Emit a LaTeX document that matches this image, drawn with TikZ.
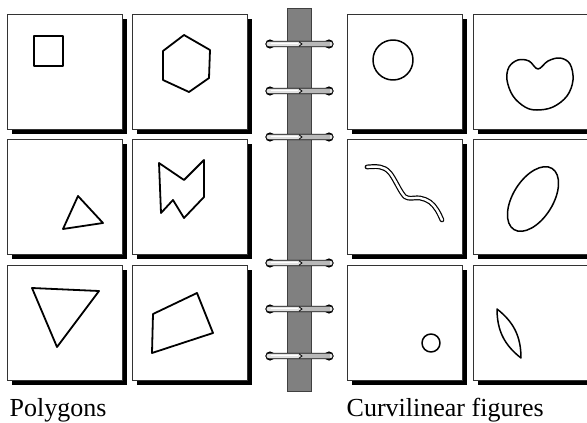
\documentclass[tikz,border=0pt]{standalone}
\usepackage{fontspec}
\setmainfont{Liberation Serif}

\begin{document}
\begin{tikzpicture}[x=1pt,y=-1pt,font=\fontsize{26}{30}\selectfont]
  \useasboundingbox (0,0) rectangle (587,423);
  \clip (0,0) rectangle (587,423);

  % Helper macro: card with drop shadow. #1 left, #2 top, #3 figure in card coordinates
  \newcommand{\card}[3]{%
    \begin{scope}[shift={(#1,#2)}]
      \fill[black] (5,5) rectangle (120,120);
      \filldraw[fill=white,draw=black!80,line width=0.8pt] (0,0) rectangle (115,115);
      \begin{scope}[line width=1.8pt,line join=round]
        #3
      \end{scope}
    \end{scope}
  }
  % Helper macro: binder ring at height #1
  \newcommand{\binderring}[1]{%
    \begin{scope}[shift={(0,#1)}]
      \fill (270,0) circle[radius=4.6];
      \fill (329,0) circle[radius=4.6];
      \filldraw[fill=gray!22,rounded corners=2.8,line width=0.7pt] (266,-2.8) rectangle (333,2.8);
      \fill[gray!55] (301,-2.4) rectangle (330,2.4);
      \draw[white,line width=1pt] (271,-0.6) -- (298,-0.6);
      \draw[line width=0.8pt] (299,-2.2) -- (302,0) -- (299,2.2);
    \end{scope}
  }

  % spine of the binder
  \filldraw[fill=black!50,draw=black!75,line width=0.8pt] (287,8) rectangle (311,391);
  \foreach \ry in {44,91,137,263,309,356} {\binderring{\ry}}

  % polygons
  \card{7}{14}{\draw (27,22) rectangle (56,52);}
  \card{132}{14}{\draw (52,21) -- (78,36) -- (77,64) -- (57,78) -- (31,66) -- (31,37) -- cycle;}
  \card{7}{139}{\draw (71,57) -- (96,84) -- (56,90) -- cycle;}
  \card{132}{139}{\draw (27,24) -- (52,41) -- (72,21) -- (72,58) -- (52,79) -- (41,61) -- (29,74) -- cycle;}
  \card{7}{265}{\draw (25,23) -- (92,26) -- (50,82) -- cycle;}
  \card{132}{265}{\draw (21,49) -- (65,28) -- (81,68) -- (20,88) -- cycle;}

  % curvilinear figures
  \card{347}{14}{\draw[line width=1.5pt] (46,46) circle[radius=20];}
  \card{473}{14}{\draw[line width=1.5pt] plot[smooth cycle,tension=0.6] coordinates
    {(65,55) (56,47) (45,46) (36,53) (34,66) (40,82) (52,93) (64,96) (80,93) (94,82) (100,66) (97,50) (87,44) (75,47)};}
  \card{347}{139}{\draw[line width=1.2pt,double=white,double distance=2.4pt,line cap=round]
    plot[smooth,tension=0.6] coordinates {(20,28) (33,28) (43,34) (55,54) (61,59) (73,59) (83,63) (90,71) (95,81)};}
  \card{473}{139}{\draw[line width=1.5pt,rotate around={58:(60,60)}] (60,60) ellipse[x radius=36,y radius=20];}
  \card{347}{265}{\draw[line width=1.5pt] (84,78) circle[radius=9];}
  \card{473}{265}{\draw[line width=1.5pt] (24,44) to[bend left=26] (48,93) to[bend left=26] cycle;}

  \node[anchor=base west,inner sep=0pt] (polylabel) at (9.5,416) {Polygons};
  \node[anchor=base west,inner sep=0pt] (curvelabel) at (346.5,416) {Curvilinear figures};
\end{tikzpicture}
\end{document}
